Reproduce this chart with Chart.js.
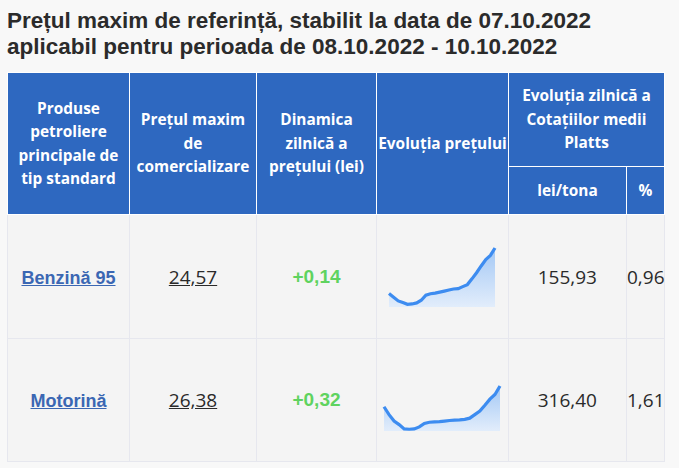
<!DOCTYPE html>
<html>
<head>
<meta charset="utf-8">
<script src="https://cdn.jsdelivr.net/npm/chart.js@4/dist/chart.umd.min.js"></script>
<style>
  html,body{margin:0;padding:0;background:#f8f8f8;}
  body{width:679px;height:468px;overflow:hidden;position:relative;font-family:"Open Sans",sans-serif;}
  h1{position:absolute;left:7px;top:8px;margin:0;font:bold 22.5px/26px "Liberation Sans",Arial,sans-serif;color:#2b2b2b;white-space:nowrap;}
  table{position:absolute;left:7px;top:72px;border-collapse:collapse;table-layout:fixed;width:657px;}
  th{background:#2e68c0;color:#fff;font:bold 15.4px/23.5px "Open Sans",sans-serif;border:1px solid #fff;padding:0;text-align:center;vertical-align:middle;white-space:nowrap;}
  td{background:#f4f4f4;border:1px solid #e6e7ee;padding:0;text-align:center;vertical-align:middle;font:19px "Open Sans",sans-serif;color:#2a2a2a;}
  tr.h1r th{height:93px;}
  tr.h2r th{height:47px;}
  tr.b1 td{height:123px;}
  tr.b2 td{height:122px;}
  td.name a{font:bold 18px "Liberation Sans",Arial,sans-serif;color:#3b67b3;text-decoration:underline;}
  td.price span{text-decoration:underline;}
  td.dyn{font:bold 19px "Liberation Sans",Arial,sans-serif;color:#5fd35f;}
  td.chart{position:relative;}
  .cw{position:absolute;}
  td.num{text-align:right;padding-right:29px;}
  td.pct{text-align:right;padding-right:0;}
</style>
</head>
<body>
<h1>Prețul maxim de referință, stabilit la data de 07.10.2022<br>aplicabil pentru perioada de 08.10.2022 - 10.10.2022</h1>
<table>
  <colgroup><col style="width:122px"><col style="width:127px"><col style="width:120px"><col style="width:132px"><col style="width:118px"><col style="width:38px"></colgroup>
  <tr class="h1r">
    <th rowspan="2">Produse<br>petroliere<br>principale de<br>tip standard</th>
    <th rowspan="2">Prețul maxim<br>de<br>comercializare</th>
    <th rowspan="2">Dinamica<br>zilnică a<br>prețului (lei)</th>
    <th rowspan="2">Evoluția prețului</th>
    <th colspan="2">Evoluția zilnică a<br>Cotațiilor medii<br>Platts</th>
  </tr>
  <tr class="h2r"><th>lei/tona</th><th>%</th></tr>
  <tr class="b1">
    <td class="name"><a id="n0"></a></td>
    <td class="price"><span id="p0"></span></td>
    <td class="dyn" id="d0"></td>
    <td class="chart"><div class="cw" id="w0" style="left:9px;top:30px;width:112px;height:65px;"><canvas id="c0"></canvas></div></td>
    <td class="num" id="l0"></td>
    <td class="pct" id="q0"></td>
  </tr>
  <tr class="b2">
    <td class="name"><a id="n1"></a></td>
    <td class="price"><span id="p1"></span></td>
    <td class="dyn" id="d1"></td>
    <td class="chart"><div class="cw" id="w1" style="left:4px;top:44px;width:122px;height:51px;"><canvas id="c1"></canvas></div></td>
    <td class="num" id="l1"></td>
    <td class="pct" id="q1"></td>
  </tr>
</table>
<script>
const products = ["Benzină 95", "Motorină"];
const maxPrices = ["24,57", "26,38"];
const dailyChange = ["+0,14", "+0,32"];
const plattsLeiTona = ["155,93", "316,40"];
const plattsPercent = ["0,96", "1,61"];
const benzinaHistory = [23.23,23.12,23.01,22.96,22.91,22.92,22.95,23.03,23.18,23.22,23.24,23.27,23.30,23.33,23.36,23.37,23.43,23.49,23.66,23.84,24.04,24.23,24.35,24.57];
const motorinaHistory = [25.67,25.40,25.18,25.06,24.91,24.90,24.91,24.98,25.10,25.14,25.15,25.16,25.18,25.20,25.21,25.22,25.24,25.28,25.40,25.52,25.72,25.93,26.09,26.38];
const yMin = [22.83, 24.84];

for (let i = 0; i < products.length; i++) {
  document.getElementById('n'+i).textContent = products[i];
  document.getElementById('p'+i).textContent = maxPrices[i];
  document.getElementById('d'+i).textContent = dailyChange[i];
  document.getElementById('l'+i).textContent = plattsLeiTona[i];
  document.getElementById('q'+i).textContent = plattsPercent[i];
}

function spark(id, data, ymin) {
  const labels = data.map((_, k) => k + 1);
  new Chart(document.getElementById(id), {
    type: 'line',
    data: {
      labels,
      datasets: [{
        data,
        borderColor: '#3d8cf0',
        borderWidth: 3.2,
        tension: 0,
        pointRadius: 0,
        fill: 'start',
        clip: false,
        backgroundColor(ctx) {
          const a = ctx.chart.chartArea;
          if (!a) return 'rgba(160,200,245,0.6)';
          const g = ctx.chart.ctx.createLinearGradient(0, a.top, 0, a.bottom);
          g.addColorStop(0, '#a3c8f5');
          g.addColorStop(1, '#e2edfb');
          return g;
        }
      }]
    },
    options: {
      responsive: true,
      maintainAspectRatio: false,
      animation: false,
      events: [],
      layout: { padding: 3 },
      plugins: { legend: { display: false }, tooltip: { enabled: false } },
      scales: {
        x: { display: false, offset: false },
        y: { display: false, min: ymin, max: Math.max(...data) }
      }
    }
  });
}
spark('c0', benzinaHistory, yMin[0]);
spark('c1', motorinaHistory, yMin[1]);
</script>
</body>
</html>
